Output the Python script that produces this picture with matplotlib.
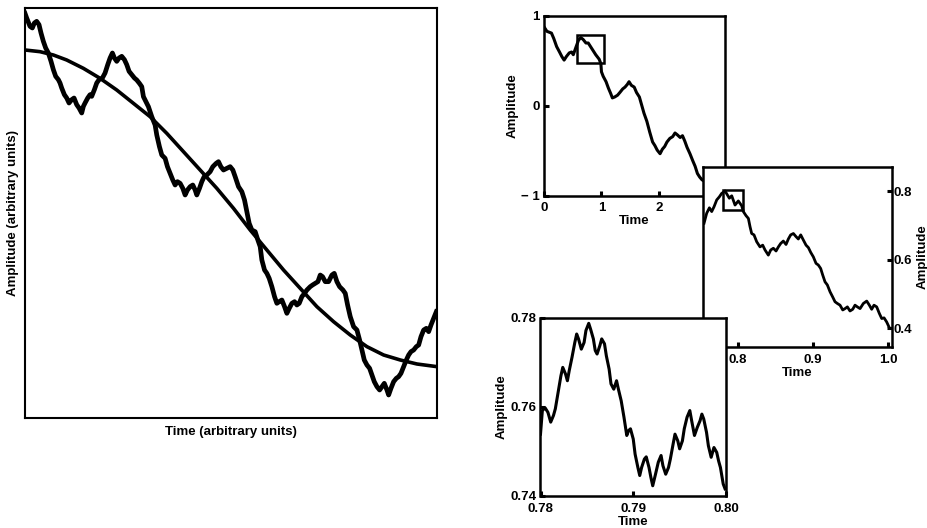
import matplotlib
matplotlib.use("Agg")
import matplotlib.pyplot as plt
from matplotlib.patches import Rectangle

plt.rcParams['font.family'] = ['Liberation Sans', 'DejaVu Sans']
plt.rcParams['font.weight'] = 'bold'

# ---------------- data ----------------
# Left panel: arbitrary units
LEFT_TIME = [0, 5, 15, 22, 28, 35, 42, 48, 55, 62,
             70, 78, 85, 92, 100, 105, 110, 118, 125, 132,
             140, 147, 155, 162, 170, 175, 180, 188, 195, 200,
             208, 215, 222, 232, 240, 248, 255, 262, 268, 275,
             282, 290, 298, 305, 312, 320, 328, 335, 343, 350,
             355, 370, 380, 390, 395, 403, 410, 420, 427, 435,
             443, 450, 457, 465, 473, 480, 487, 495, 503, 510,
             515, 523, 530, 537, 545, 555, 563, 573, 580, 587,
             595, 605, 615, 623, 630, 640, 650, 658, 665, 672,
             680, 690, 698, 705, 710, 718, 725, 732, 740, 748,
             755, 762, 770, 778, 785, 792, 800, 808, 815, 822,
             830, 838, 845, 855, 862, 870, 878, 885, 892, 900,
             910, 920, 927, 935, 943, 953, 960, 967, 975, 985,
             995, 1003, 1010, 1017, 1025, 1033, 1040, 1047, 1055, 1063,
             1070, 1077, 1085, 1090, 1097, 1105, 1113, 1120, 1127, 1135,
             1143, 1150, 1157, 1165, 1173, 1180, 1187, 1195, 1203, 1210,
             1217, 1225, 1233]
LEFT_AMP = [1214, 1200, 1175, 1170, 1185, 1190, 1180, 1155, 1130, 1110,
            1095, 1070, 1045, 1025, 1015, 1005, 990, 970, 960, 945,
            955, 960, 940, 930, 915, 935, 945, 960, 970, 965,
            985, 1005, 1015, 1020, 1035, 1060, 1080, 1095, 1080, 1070,
            1080, 1085, 1075, 1060, 1040, 1030, 1020, 1014, 1004, 994,
            964, 934, 904, 879, 849, 814, 789, 779, 754, 734,
            714, 699, 709, 704, 689, 669, 684, 694, 699, 684,
            669, 689, 709, 724, 729, 739, 754, 764, 769, 754,
            744, 749, 754, 744, 724, 694, 679, 654, 619, 584,
            564, 559, 534, 514, 474, 444, 434, 419, 394, 364,
            344, 349, 354, 334, 314, 329, 344, 349, 339, 344,
            364, 374, 384, 394, 399, 404, 409, 429, 424, 409,
            409, 429, 434, 409, 394, 384, 374, 339, 304, 274,
            264, 234, 204, 174, 159, 149, 129, 109, 94, 84,
            94, 104, 84, 69, 89, 109, 119, 124, 134, 154,
            174, 189, 199, 204, 214, 219, 244, 264, 269, 259,
            279, 299, 319]
SMOOTH_TIME = [0, 45, 85, 125, 175, 225, 275, 325, 375, 425, 475, 525, 575,
               625, 675, 725, 775, 825, 875, 925, 975, 1025, 1075, 1125,
               1175, 1235]
SMOOTH_AMP = [1104, 1099, 1089, 1074, 1049, 1019, 984, 944, 904, 854, 799,
              744, 689, 629, 564, 504, 444, 389, 334, 289, 249, 214, 189,
              174, 162, 154]

# Top-right panel
TOP_TIME = [0.00, 0.05, 0.13, 0.17, 0.22, 0.27, 0.31, 0.35, 0.39, 0.44,
            0.48, 0.51, 0.56, 0.60, 0.64, 0.68, 0.73, 0.77, 0.81, 0.86,
            0.90, 0.96, 0.99, 1.00, 1.03, 1.08, 1.12, 1.16, 1.19, 1.23,
            1.28, 1.32, 1.37, 1.41, 1.45, 1.48, 1.52, 1.57, 1.61, 1.66,
            1.70, 1.74, 1.79, 1.84, 1.89, 1.93, 1.97, 2.02, 2.06, 2.10,
            2.14, 2.19, 2.24, 2.28, 2.32, 2.37, 2.41, 2.45, 2.49, 2.54,
            2.59, 2.63, 2.67, 2.71, 2.75, 2.85, 2.95, 3.05, 3.14]
TOP_AMP = [0.88, 0.83, 0.81, 0.75, 0.66, 0.60, 0.55, 0.51, 0.55, 0.59,
           0.60, 0.57, 0.66, 0.73, 0.76, 0.74, 0.70, 0.70, 0.66, 0.61,
           0.57, 0.52, 0.47, 0.38, 0.33, 0.27, 0.20, 0.14, 0.09, 0.10,
           0.12, 0.15, 0.19, 0.21, 0.24, 0.27, 0.23, 0.21, 0.15, 0.10,
           0.01, -0.08, -0.17, -0.29, -0.40, -0.44, -0.49, -0.53, -0.48, -0.45,
           -0.40, -0.36, -0.34, -0.30, -0.32, -0.35, -0.33, -0.39, -0.46, -0.53,
           -0.61, -0.67, -0.75, -0.79, -0.82, -0.86, -0.90, -0.95, -0.98]
TOP_BOX = (0.574, 0.478, 1.043, 0.789)

# Middle panel
MID_TIME = [0.7547, 0.7582, 0.7618, 0.7649, 0.7680, 0.7716, 0.7751, 0.7782, 0.7827, 0.7884,
            0.7916, 0.7960, 0.8004, 0.8049, 0.8071, 0.8107, 0.8138, 0.8160, 0.8182, 0.8213,
            0.8249, 0.8293, 0.8329, 0.8360, 0.8404, 0.8436, 0.8471, 0.8507, 0.8538, 0.8569,
            0.8604, 0.8640, 0.8671, 0.8702, 0.8738, 0.8773, 0.8804, 0.8836, 0.8871, 0.8907,
            0.8938, 0.8969, 0.9004, 0.9040, 0.9071, 0.9102, 0.9129, 0.9160, 0.9191, 0.9227,
            0.9262, 0.9293, 0.9324, 0.9360, 0.9396, 0.9427, 0.9458, 0.9493, 0.9529, 0.9560,
            0.9591, 0.9627, 0.9671, 0.9716, 0.9751, 0.9782, 0.9813, 0.9849, 0.9884, 0.9916,
            0.9947, 0.9982, 1.0018]
MID_AMP = [0.706, 0.735, 0.751, 0.740, 0.754, 0.774, 0.783, 0.793, 0.800, 0.779,
           0.786, 0.759, 0.771, 0.757, 0.740, 0.728, 0.720, 0.696, 0.676, 0.672,
           0.652, 0.637, 0.642, 0.628, 0.613, 0.628, 0.633, 0.625, 0.637, 0.647,
           0.654, 0.644, 0.660, 0.672, 0.676, 0.667, 0.660, 0.672, 0.657, 0.642,
           0.635, 0.621, 0.608, 0.589, 0.584, 0.574, 0.555, 0.535, 0.526, 0.506,
           0.491, 0.477, 0.472, 0.467, 0.453, 0.457, 0.462, 0.450, 0.455, 0.467,
           0.462, 0.457, 0.472, 0.479, 0.467, 0.455, 0.467, 0.462, 0.443, 0.428,
           0.430, 0.418, 0.401]
MID_BOX = (0.7804, 0.745, 0.8071, 0.803)

# Bottom panel
BOT_TIME = [0.7800, 0.7802, 0.7805, 0.7808, 0.7811, 0.7814, 0.7816, 0.7819, 0.7822, 0.7824,
            0.7827, 0.7829, 0.7831, 0.7834, 0.7837, 0.7839, 0.7841, 0.7844, 0.7847, 0.7849,
            0.7852, 0.7854, 0.7857, 0.7859, 0.7861, 0.7864, 0.7866, 0.7869, 0.7871, 0.7874,
            0.7876, 0.7879, 0.7882, 0.7884, 0.7887, 0.7890, 0.7893, 0.7895, 0.7897, 0.7900,
            0.7902, 0.7905, 0.7907, 0.7909, 0.7912, 0.7914, 0.7917, 0.7919, 0.7921, 0.7924,
            0.7927, 0.7930, 0.7932, 0.7935, 0.7938, 0.7940, 0.7943, 0.7945, 0.7948, 0.7950,
            0.7953, 0.7955, 0.7958, 0.7961, 0.7963, 0.7966, 0.7969, 0.7972, 0.7974, 0.7976,
            0.7979, 0.7981, 0.7984, 0.7987, 0.7990, 0.7992, 0.7994, 0.7997, 0.7999]
BOT_AMP = [0.7539, 0.7592, 0.7598, 0.7588, 0.7566, 0.7581, 0.7596, 0.7633, 0.7670, 0.7689,
           0.7674, 0.7659, 0.7682, 0.7712, 0.7745, 0.7764, 0.7753, 0.7730, 0.7745, 0.7772,
           0.7788, 0.7775, 0.7753, 0.7727, 0.7719, 0.7738, 0.7753, 0.7742, 0.7715, 0.7685,
           0.7652, 0.7640, 0.7659, 0.7640, 0.7614, 0.7577, 0.7536, 0.7547, 0.7551, 0.7528,
           0.7494, 0.7464, 0.7446, 0.7464, 0.7483, 0.7488, 0.7464, 0.7442, 0.7423, 0.7449,
           0.7476, 0.7491, 0.7468, 0.7449, 0.7464, 0.7483, 0.7517, 0.7539, 0.7524, 0.7506,
           0.7524, 0.7551, 0.7577, 0.7592, 0.7569, 0.7536, 0.7554, 0.7569, 0.7584, 0.7573,
           0.7543, 0.7513, 0.7487, 0.7509, 0.7498, 0.7479, 0.7464, 0.7427, 0.7416]

TOP_XTICKS = [0, 1, 2]
TOP_YTICKS = [-1, 0, 1]
TOP_YLABELS = ['\u2212 1', '0', '1']
MID_XTICKS = [0.8, 0.9, 1.0]
MID_XLABELS = ['0.8', '0.9', '1.0']
MID_YTICKS = [0.4, 0.6, 0.8]
MID_YLABELS = ['0.4', '0.6', '0.8']
BOT_XTICKS = [0.78, 0.79, 0.80]
BOT_XLABELS = ['0.78', '0.79', '0.80']
BOT_YTICKS = [0.74, 0.76, 0.78]
BOT_YLABELS = ['0.74', '0.76', '0.78']

# ---------------- figure ----------------
W, H = 928, 528
fig = plt.figure(figsize=(W / 100, H / 100), dpi=100)
fig.patch.set_facecolor('white')


def rect(l, t, r, b):
    return [l / W, 1 - b / H, (r - l) / W, (b - t) / H]


FS = 9.5
SPINE = 1.8


def style(ax):
    for s in ax.spines.values():
        s.set_linewidth(SPINE)
        s.set_color('black')
    ax.tick_params(direction='in', length=3.5, width=2.2, labelsize=FS, pad=3)


# Left panel
axL = fig.add_axes(rect(25, 8, 437, 418))
axL.plot(SMOOTH_TIME, SMOOTH_AMP, color='black', lw=2.6, solid_capstyle='round')
axL.plot(LEFT_TIME, LEFT_AMP, color='black', lw=3.4, solid_joinstyle='round')
axL.set_xlim(0, 1235)
axL.set_ylim(0, 1230)
axL.set_xticks([])
axL.set_yticks([])
for s in axL.spines.values():
    s.set_linewidth(1.5)
axL.set_xlabel('Time (arbitrary units)', fontsize=FS, fontweight='bold', labelpad=6)
axL.set_ylabel('Amplitude (arbitrary units)', fontsize=FS, fontweight='bold', labelpad=4)

# Top-right panel
axT = fig.add_axes(rect(544, 16, 725, 196))
axT.set_facecolor('white')
axT.plot(TOP_TIME, TOP_AMP, color='black', lw=2.2)
axT.add_patch(Rectangle((TOP_BOX[0], TOP_BOX[1]), TOP_BOX[2] - TOP_BOX[0],
                        TOP_BOX[3] - TOP_BOX[1], fill=False, lw=1.8, ec='black'))
axT.set_xlim(0, 3.15)
axT.set_ylim(-1, 1)
axT.set_xticks(TOP_XTICKS)
axT.set_yticks(TOP_YTICKS)
axT.set_yticklabels(TOP_YLABELS)
style(axT)
axT.tick_params(axis='x', pad=4)
axT.set_xlabel('Time', fontsize=FS, fontweight='bold', labelpad=1)
axT.set_ylabel('Amplitude', fontsize=FS, fontweight='bold', labelpad=2)

# Middle panel
axM = fig.add_axes(rect(703, 167, 892, 347))
axM.set_facecolor('white')
axM.plot(MID_TIME, MID_AMP, color='black', lw=2.0)
axM.add_patch(Rectangle((MID_BOX[0], MID_BOX[1]), MID_BOX[2] - MID_BOX[0],
                        MID_BOX[3] - MID_BOX[1], fill=False, lw=1.8, ec='black'))
axM.set_xlim(0.7533, 1.0053)
axM.set_ylim(0.345, 0.87)
axM.set_xticks(MID_XTICKS)
axM.set_xticklabels(MID_XLABELS)
axM.yaxis.tick_right()
axM.yaxis.set_label_position('right')
axM.set_yticks(MID_YTICKS)
axM.set_yticklabels(MID_YLABELS)
style(axM)
axM.tick_params(axis='y', pad=1)
axM.tick_params(axis='x', pad=5)
axM.set_xlabel('Time', fontsize=FS, fontweight='bold', labelpad=1)
axM.set_ylabel('Amplitude', fontsize=FS, fontweight='bold', labelpad=3, rotation=90)

# Bottom panel
axB = fig.add_axes(rect(540.5, 318, 726, 496))
axB.set_facecolor('white')
axB.plot(BOT_TIME, BOT_AMP, color='black', lw=2.2)
axB.set_xlim(0.78, 0.80)
axB.set_ylim(0.74, 0.78)
axB.set_xticks(BOT_XTICKS)
axB.set_xticklabels(BOT_XLABELS)
axB.set_yticks(BOT_YTICKS)
axB.set_yticklabels(BOT_YLABELS)
style(axB)
axB.tick_params(axis='x', pad=5)
axB.set_xlabel('Time', fontsize=FS, fontweight='bold', labelpad=1)
axB.set_ylabel('Amplitude', fontsize=FS, fontweight='bold', labelpad=2)

for ax in (axT, axM, axB):
    for lab in ax.get_xticklabels() + ax.get_yticklabels():
        lab.set_fontweight('bold')

fig.savefig('out.png', dpi=100, facecolor='white')
